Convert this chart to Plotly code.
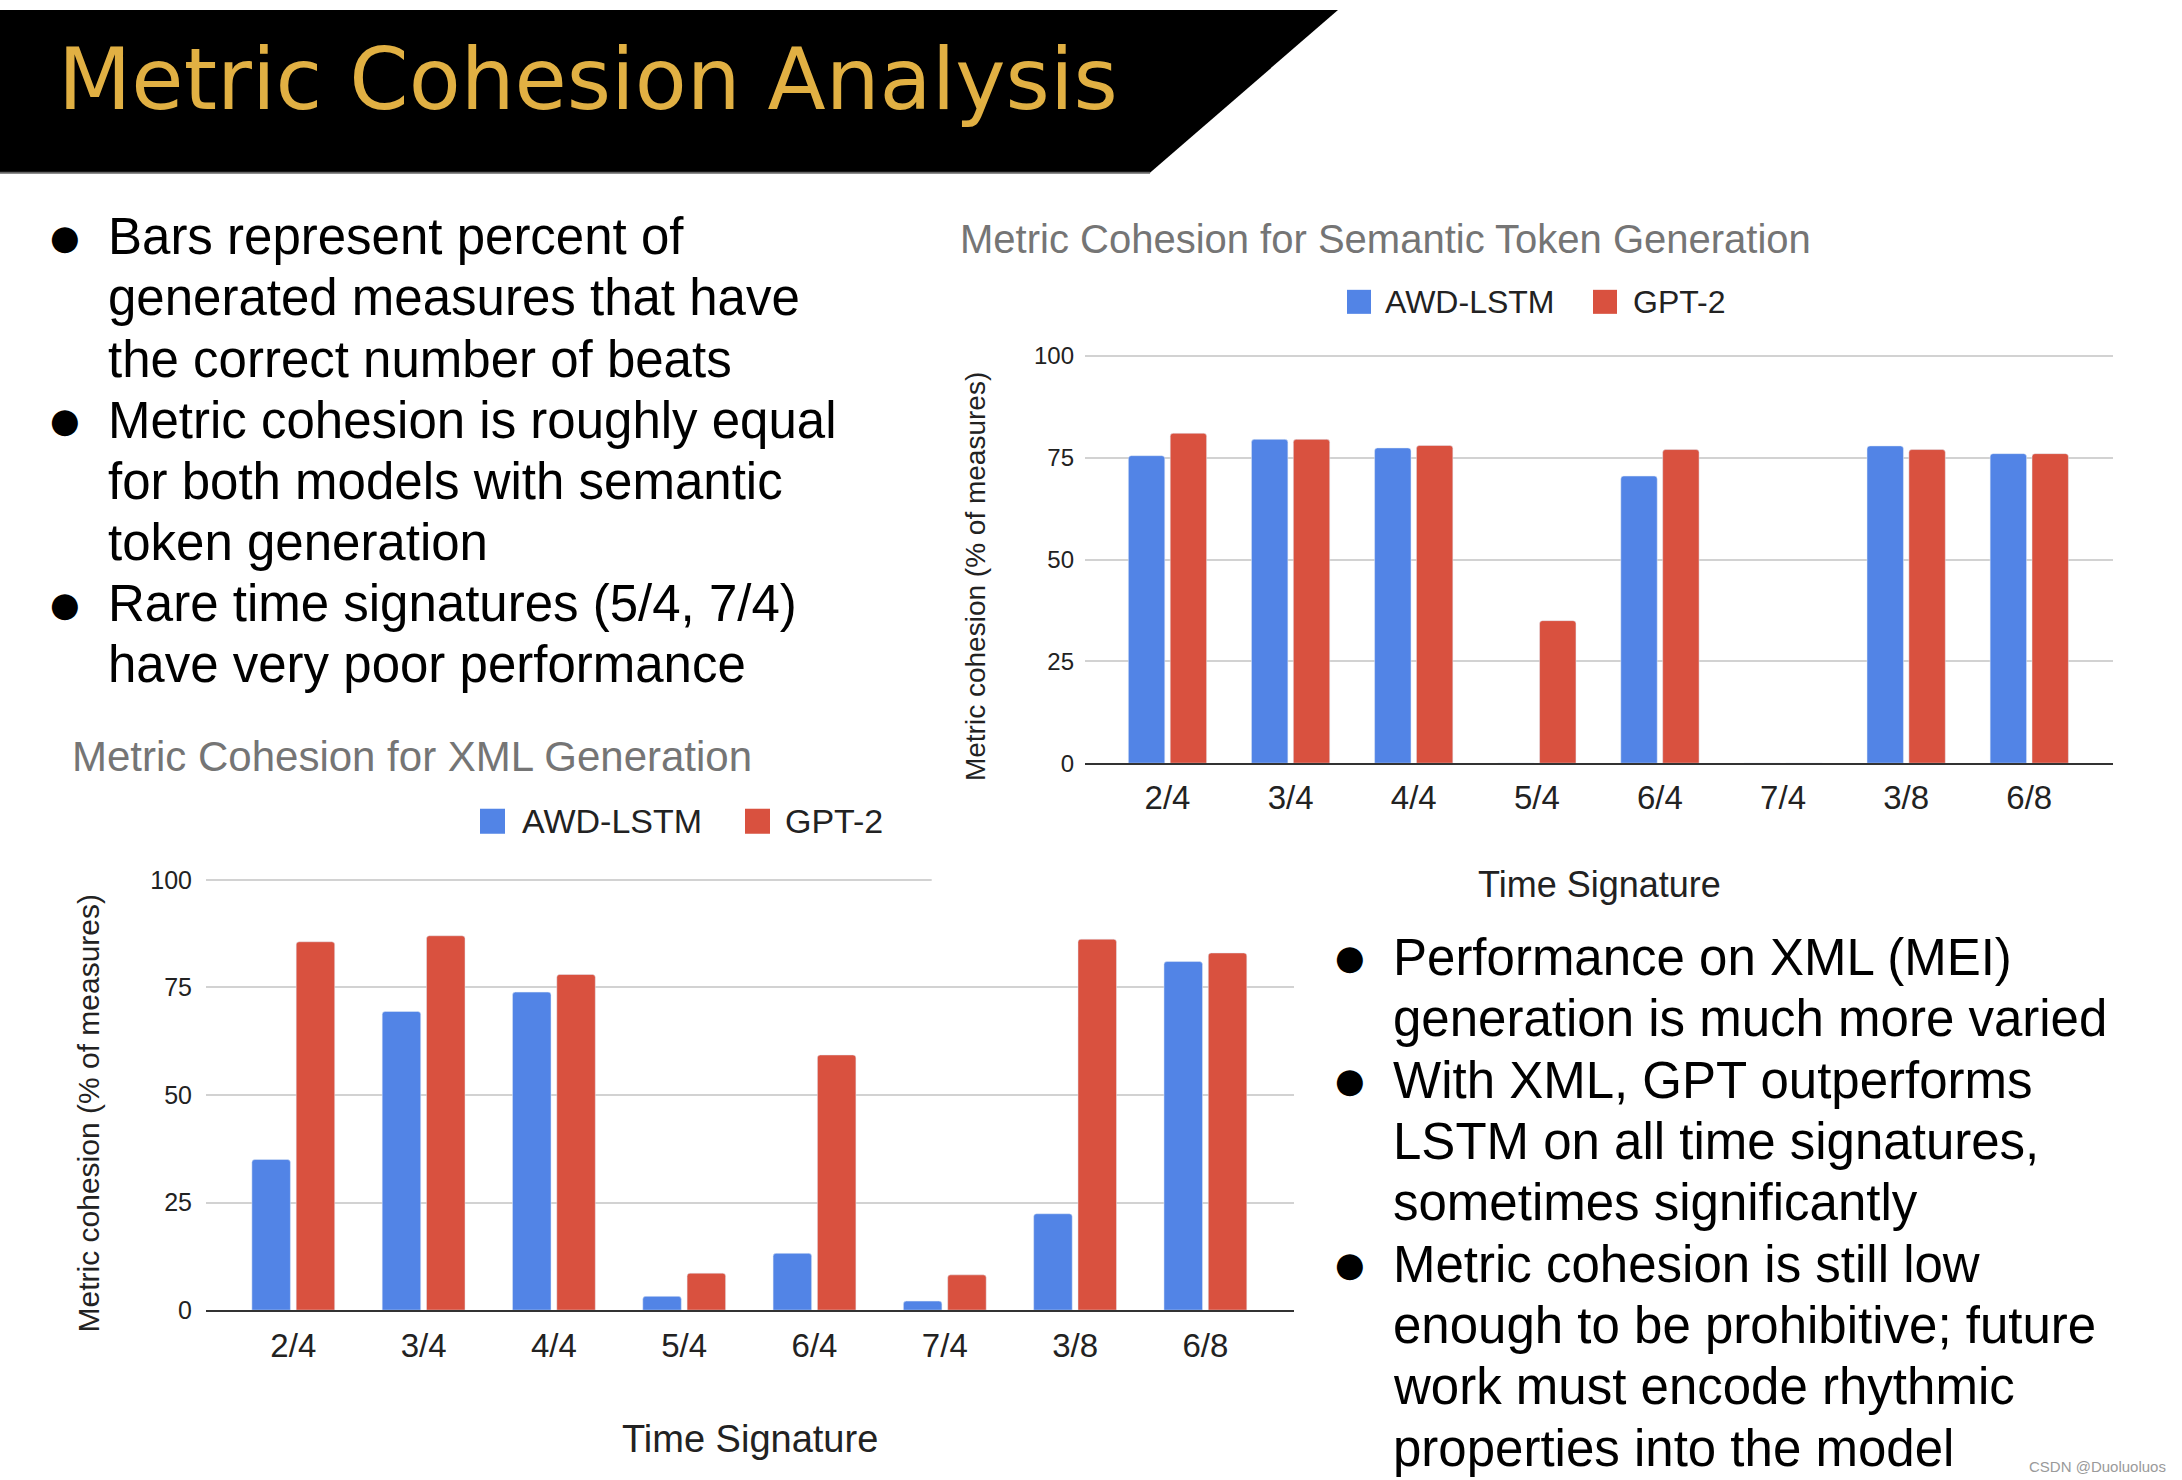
import plotly.graph_objects as go

# ---------------- data ----------------
categories = ["2/4", "3/4", "4/4", "5/4", "6/4", "7/4", "3/8", "6/8"]
series_names = ["AWD-LSTM", "GPT-2"]
semantic_awd_lstm = [75.5, 79.5, 77.4, 0, 70.5, 0, 77.9, 76.0]
semantic_gpt2 = [81.0, 79.5, 78.0, 35.0, 77.0, 0, 77.0, 76.0]
xml_awd_lstm = [35.0, 69.4, 73.9, 3.2, 13.2, 2.1, 22.4, 81.0]
xml_gpt2 = [85.6, 87.0, 78.0, 8.6, 59.3, 8.2, 86.2, 83.0]
y_tick_values = [0, 25, 50, 75, 100]

slide_title = "Metric Cohesion Analysis"
top_chart_title = "Metric Cohesion for Semantic Token Generation"
bottom_chart_title = "Metric Cohesion for XML Generation"
y_axis_title = "Metric cohesion (% of measures)"
x_axis_title = "Time Signature"
left_bullets = [
    ["Bars represent percent of", "generated measures that have", "the correct number of beats"],
    ["Metric cohesion is roughly equal", "for both models with semantic", "token generation"],
    ["Rare time signatures (5/4, 7/4)", "have very poor performance"],
]
right_bullets = [
    ["Performance on XML (MEI)", "generation is much more varied"],
    ["With XML, GPT outperforms", "LSTM on all time signatures,", "sometimes significantly"],
    ["Metric cohesion is still low", "enough to be prohibitive; future",
     "work must encode rhythmic", "properties into the model"],
]
watermark = "CSDN @Duoluoluos"

# ---------------- styling ----------------
W, H = 2182, 1480
# vertical calibration between page pixels and the photographed picture
V_SCALE, V_OFFSET = 0.983, 10.4
BLUE = "#5284e6"
RED = "#d9513f"
GOLD = "#e1b043"
GRAY_TITLE = "#757575"
ARIAL = "Liberation Sans, Arial, sans-serif"


def fx(px):
    return px / W


def fy(py):
    page_y = (py - V_OFFSET) / V_SCALE
    return 1 - page_y / H


fig = go.Figure()

# top chart (semantic)
for name, vals, col in [(series_names[0], semantic_awd_lstm, BLUE),
                        (series_names[1], semantic_gpt2, RED)]:
    fig.add_trace(go.Bar(x=categories, y=vals, name=name, marker_color=col,
                         marker_cornerradius=3, xaxis="x", yaxis="y",
                         showlegend=False))
# bottom chart (XML)
for name, vals, col in [(series_names[0], xml_awd_lstm, BLUE),
                        (series_names[1], xml_gpt2, RED)]:
    fig.add_trace(go.Bar(x=categories, y=vals, name=name, marker_color=col,
                         marker_cornerradius=3, xaxis="x2", yaxis="y2",
                         showlegend=False))

# axis geometry (target pixels)
top_x0, top_x1, top_zero, top_hundred = 1085, 2113, 763, 356
bot_x0, bot_x1, bot_zero, bot_hundred = 206, 1294, 1309.5, 879.5
YMAX = 101
top_top = top_zero - (top_zero - top_hundred) * YMAX / 100
bot_top = bot_zero - (bot_zero - bot_hundred) * YMAX / 100

xaxis_common = dict(type="category", range=[-0.67, 7.68], showgrid=False,
                    showline=True, linecolor="#333333", linewidth=2,
                    ticks="", tickfont=dict(family=ARIAL, size=33, color="#222222"),
                    ticklabelstandoff=4, fixedrange=True)
yaxis_common = dict(range=[0, YMAX], tickvals=y_tick_values, showgrid=True,
                    gridcolor="#d2d2d2", gridwidth=2, zeroline=False,
                    ticks="", tickfont=dict(family=ARIAL, size=24, color="#222222"),
                    ticklabelstandoff=10, fixedrange=True)

fig.update_layout(
    width=W, height=H,
    margin=dict(l=0, r=0, t=0, b=0),
    paper_bgcolor="white", plot_bgcolor="white",
    barmode="group", bargap=0.32, bargroupgap=0.13,
    xaxis=dict(domain=[fx(top_x0), fx(top_x1)], anchor="y", **xaxis_common),
    yaxis=dict(domain=[fy(top_zero), fy(top_top)], anchor="x", **yaxis_common),
    xaxis2=dict(domain=[fx(bot_x0), fx(bot_x1)], anchor="y2",
                **{**xaxis_common, "ticklabelstandoff": 5}),
    yaxis2=dict(domain=[fy(bot_zero), fy(bot_top)], anchor="x2",
                **{**yaxis_common, "tickfont": dict(family=ARIAL, size=25, color="#222222"),
                   "ticklabelstandoff": 13}),
)

shapes = []
annotations = []

# header banner
shapes.append(dict(type="path", xref="paper", yref="paper",
                   path=f"M 0 1 L {fx(1338)} 1 L {fx(1150)} {fy(173)} L 0 {fy(173)} Z",
                   fillcolor="black", line=dict(width=0), layer="above"))
shapes.append(dict(type="line", xref="paper", yref="paper", x0=0, x1=fx(1150),
                   y0=fy(173), y1=fy(173), line=dict(color="#666666", width=2)))
annotations.append(dict(text=slide_title, xref="paper", yref="paper", x=fx(56), y=fy(80),
                        xanchor="left", yanchor="middle", showarrow=False,
                        font=dict(family="DejaVu Sans", size=85, color=GOLD)))

# white mask hiding part of the bottom chart's 100 gridline (covered by top chart image)
shapes.append(dict(type="line", xref="x2 domain", yref="y2", x0=0.667, x1=1.01,
                   y0=100, y1=100, line=dict(color="white", width=5), layer="above"))

# chart titles
annotations.append(dict(text=top_chart_title, xref="paper", yref="paper", x=fx(958), y=fy(239),
                        xanchor="left", yanchor="middle", showarrow=False,
                        font=dict(family=ARIAL, size=40, color=GRAY_TITLE)))
annotations.append(dict(text=bottom_chart_title, xref="paper", yref="paper", x=fx(70), y=fy(756),
                        xanchor="left", yanchor="middle", showarrow=False,
                        font=dict(family=ARIAL, size=42, color=GRAY_TITLE)))


# legends (manual, Google-chart style squares)
def add_legend(sq_positions, text_positions, yc, size, fs):
    for (sx, col), tx, name in zip(sq_positions, text_positions, series_names):
        shapes.append(dict(type="rect", xref="paper", yref="paper",
                           x0=fx(sx), x1=fx(sx + size), y0=fy(yc - size / 2), y1=fy(yc + size / 2),
                           fillcolor=col, line=dict(width=0)))
        annotations.append(dict(text=name, xref="paper", yref="paper", x=fx(tx), y=fy(yc),
                                xanchor="left", yanchor="middle", showarrow=False,
                                font=dict(family=ARIAL, size=fs, color="#222222")))


add_legend([(1347, BLUE), (1593, RED)], [1383, 1631], 302, 24, 32)
add_legend([(480, BLUE), (745, RED)], [520, 783], 821, 25, 34)

# axis titles
annotations.append(dict(text=y_axis_title, xref="paper", yref="paper", x=fx(975), y=fy(577),
                        xanchor="center", yanchor="middle", textangle=-90, showarrow=False,
                        font=dict(family=ARIAL, size=28, color="#222222")))
annotations.append(dict(text=y_axis_title, xref="paper", yref="paper", x=fx(88), y=fy(1113),
                        xanchor="center", yanchor="middle", textangle=-90, showarrow=False,
                        font=dict(family=ARIAL, size=30, color="#222222")))
annotations.append(dict(text=x_axis_title, xref="paper", yref="paper", x=fx(1599), y=fy(884),
                        xanchor="center", yanchor="middle", showarrow=False,
                        font=dict(family=ARIAL, size=36, color="#222222")))
annotations.append(dict(text=x_axis_title, xref="paper", yref="paper", x=fx(750), y=fy(1438),
                        xanchor="center", yanchor="middle", showarrow=False,
                        font=dict(family=ARIAL, size=38, color="#222222")))


# bullet text blocks
def add_bullets(groups, bullet_x, text_x, y0, dy, fs):
    i = 0
    for group in groups:
        for j, line in enumerate(group):
            y = y0 + dy * i
            if j == 0:
                annotations.append(dict(text="●", xref="paper", yref="paper", x=fx(bullet_x), y=fy(y),
                                        xanchor="center", yanchor="middle", showarrow=False,
                                        font=dict(family="DejaVu Sans", size=34, color="black")))
            annotations.append(dict(text=line, xref="paper", yref="paper", x=fx(text_x), y=fy(y),
                                    xanchor="left", yanchor="middle", showarrow=False,
                                    font=dict(family=ARIAL, size=fs, color="black")))
            i += 1


add_bullets(left_bullets, 65, 106, 237, 61.1, 51)
add_bullets(right_bullets, 1350, 1391, 957, 61.3, 51)

annotations.append(dict(text=watermark, xref="paper", yref="paper", x=fx(2168), y=fy(1466),
                        xanchor="right", yanchor="middle", showarrow=False,
                        font=dict(family=ARIAL, size=15, color="#9a9a9a")))

fig.update_layout(shapes=shapes, annotations=annotations)

fig.write_html("out.html", config={"displayModeBar": False},
               post_script="document.body.style.margin='0';document.body.style.overflow='hidden';")
